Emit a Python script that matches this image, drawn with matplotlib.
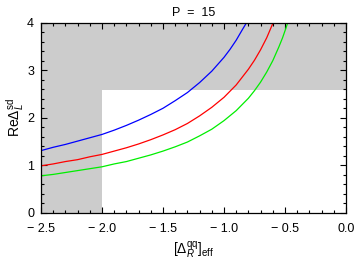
import matplotlib
matplotlib.use("Agg")
import matplotlib.pyplot as plt
from matplotlib.ticker import MultipleLocator, FuncFormatter

plt.rcParams['font.family'] = ['Liberation Sans', 'DejaVu Sans']
plt.rcParams['mathtext.fontset'] = 'custom'
plt.rcParams['mathtext.rm'] = 'Liberation Sans'
plt.rcParams['mathtext.it'] = 'Liberation Sans:italic'

# curves
blue_x = [-2.5, -2.4, -2.3, -2.2, -2.1, -2.0, -1.9, -1.8, -1.7, -1.6, -1.5,
          -1.4, -1.3, -1.2, -1.1, -1.0, -0.95, -0.9, -0.85, -0.81]
blue_y = [1.31, 1.38, 1.44, 1.51, 1.58, 1.65, 1.74, 1.84, 1.95, 2.07, 2.20,
          2.36, 2.53, 2.74, 2.98, 3.27, 3.44, 3.63, 3.85, 4.02]

red_x = [-2.5, -2.4, -2.3, -2.2, -2.1, -2.0, -1.9, -1.8, -1.7, -1.6, -1.5,
         -1.4, -1.3, -1.2, -1.1, -1.0, -0.9, -0.8, -0.75, -0.7, -0.65, -0.6]
red_y = [0.99, 1.03, 1.08, 1.12, 1.18, 1.23, 1.30, 1.37, 1.45, 1.54, 1.64,
         1.75, 1.88, 2.04, 2.22, 2.43, 2.69, 3.02, 3.21, 3.43, 3.68, 3.98]

green_x = [-2.5, -2.4, -2.3, -2.2, -2.1, -2.0, -1.9, -1.8, -1.7, -1.6, -1.5,
           -1.4, -1.3, -1.2, -1.1, -1.0, -0.9, -0.8, -0.75, -0.7, -0.65,
           -0.6, -0.55, -0.52, -0.49, -0.48]
green_y = [0.78, 0.81, 0.85, 0.89, 0.93, 0.97, 1.03, 1.08, 1.15, 1.22, 1.30,
           1.39, 1.49, 1.62, 1.76, 1.94, 2.15, 2.41, 2.57, 2.75, 2.96,
           3.20, 3.49, 3.68, 3.90, 3.98]

# excluded regions
y_cut = 2.58
x_cut = -2.0

fig = plt.figure(figsize=(3.6, 2.6), dpi=100)
ax = fig.add_axes([0.114, 0.181, 0.847, 0.732])

ax.axhspan(y_cut, 4, color='#cccccc', lw=0)
ax.fill_between([-2.5, x_cut], 0, y_cut, color='#cccccc', lw=0)

ax.plot(blue_x, blue_y, color='#0000ff', lw=0.9)
ax.plot(red_x, red_y, color='#ff0000', lw=0.9)
ax.plot(green_x, green_y, color='#00ee00', lw=0.9)

ax.set_xlim(-2.5, 0)
ax.set_ylim(0, 4)
ax.xaxis.set_major_locator(MultipleLocator(0.5))
ax.xaxis.set_minor_locator(MultipleLocator(0.1))
ax.yaxis.set_major_locator(MultipleLocator(1))
ax.yaxis.set_minor_locator(MultipleLocator(0.2))
ax.xaxis.set_major_formatter(FuncFormatter(lambda v, p: "\u2212 %.1f" % abs(v) if v < -1e-9 else "0.0"))
ax.yaxis.set_major_formatter(FuncFormatter(lambda v, p: "%d" % v))
ax.tick_params(which='both', direction='in', top=True, right=True, labelsize=9, width=0.8)
ax.tick_params(which='major', length=4)
ax.tick_params(which='minor', length=2)
ax.tick_params(axis='x', which='major', pad=7)
ax.tick_params(axis='y', which='major', pad=5)
for s in ax.spines.values():
    s.set_linewidth(0.9)

ax.set_title("P  =  15", fontsize=9, pad=5)
ax.set_xlabel(r"$[\Delta_{R}^{\rm qq}]_{\rm eff}$", fontsize=10, labelpad=4)
ax.set_ylabel(r"Re$\Delta_{L}^{\rm sd}$", fontsize=10, labelpad=1)

fig.savefig("out.png", dpi=100)
